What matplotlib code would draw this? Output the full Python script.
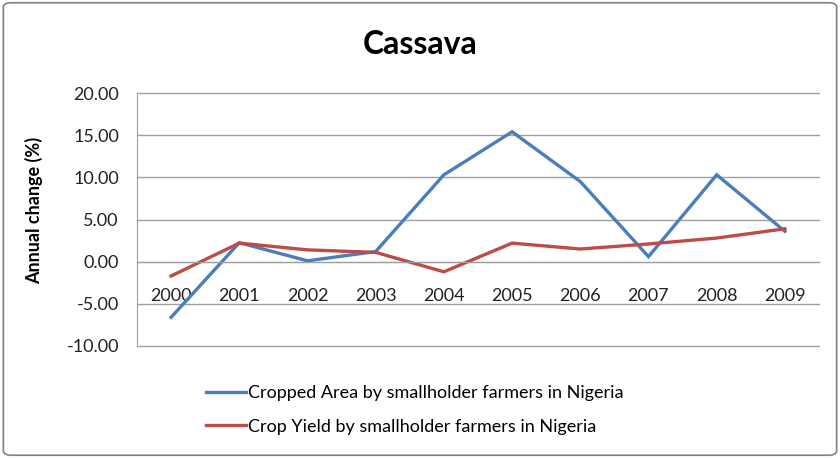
import matplotlib
matplotlib.use("Agg")
import matplotlib.pyplot as plt
from matplotlib.patches import FancyBboxPatch

years = ["2000", "2001", "2002", "2003", "2004", "2005", "2006", "2007", "2008", "2009"]
cropped_area = [-6.6, 2.25, 0.1, 1.2, 10.3, 15.4, 9.5, 0.6, 10.3, 3.6]
crop_yield = [-1.7, 2.2, 1.4, 1.1, -1.2, 2.2, 1.5, 2.1, 2.8, 3.9]
yticks = [-10, -5, 0, 5, 10, 15, 20]

plt.rcParams['font.family'] = ['Lato', 'DejaVu Sans']

fig = plt.figure(figsize=(8.4, 4.58), dpi=100)
ax = fig.add_axes([137/840, 1-346/458, (819-137)/840, (346-93)/458])

ax.spines['bottom'].set_position(('data', 0))
ax.spines['bottom'].set_color("#A0A0A0")
ax.spines['top'].set_visible(False)
ax.spines['right'].set_visible(False)
ax.spines['left'].set_color("#A0A0A0")

x = list(range(len(years)))
ax.plot(x, cropped_area, color="#4A7EBB", lw=2.4, solid_joinstyle="miter",
        label="Cropped Area by smallholder farmers in Nigeria")
ax.plot(x, crop_yield, color="#BE4B48", lw=2.4, solid_joinstyle="miter",
        label="Crop Yield by smallholder farmers in Nigeria")

ax.set_xlim(-0.5, len(years)-0.5)
ax.set_ylim(-10, 20)
ax.set_yticks(yticks)
ax.set_yticklabels([f"{v:.2f}" for v in yticks], fontsize=13, color="#222222")
ax.yaxis.grid(True, color="#A0A0A0", lw=1)
for gl in ax.get_ygridlines():
    gl.set_clip_on(False)
ax.set_axisbelow(True)

ax.set_xticks(x)
ax.set_xticklabels(years, fontsize=13, color="#222222")
ax.tick_params(axis='x', length=0, pad=19, labelsize=13)
ax.tick_params(axis='y', length=0, pad=13)

ax.set_ylabel("Annual change (%)", fontsize=13, fontweight="bold")
ax.yaxis.set_label_coords(-(137-43)/682, (346-210)/253)

fig.text(0.5, 1-45/458, "Cassava", ha="center", va="center", fontsize=23, fontweight="bold")

leg = fig.legend(loc="center left", bbox_to_anchor=(206/840, 1-410/458), frameon=False,
                 fontsize=13, handlelength=2.2, handletextpad=0.15, labelspacing=0.95,
                 borderpad=0, borderaxespad=0)

border = FancyBboxPatch((0.004, 0.006), 0.992, 0.988, boxstyle="round,pad=0,rounding_size=0.01",
                        transform=fig.transFigure, fill=False, edgecolor="#808080", lw=1.2)
fig.patches.append(border)

fig.savefig("out.png", dpi=100)
